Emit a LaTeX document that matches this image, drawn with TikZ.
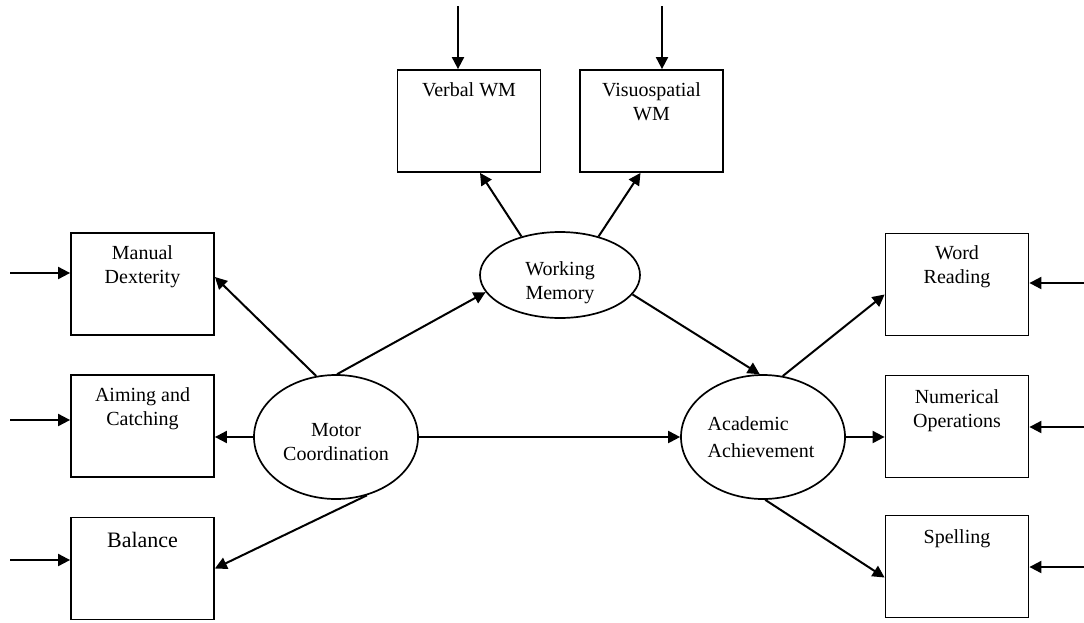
\documentclass[tikz,border=0pt]{standalone}
\usepackage{fontspec}
\setmainfont{Liberation Serif}
\usetikzlibrary{shapes.geometric,arrows.meta,calc}
\begin{document}
\begin{tikzpicture}[x=1pt,y=-1pt,
  box/.style={draw,line width=1.8pt,minimum width=143pt,minimum height=102pt,inner sep=0pt},
  oval/.style={draw,ellipse,line width=1.7pt,inner sep=0pt},
  lbl/.style={font=\fontsize{20}{24}\selectfont,align=center,inner sep=0pt,anchor=north},
  arr/.style={line width=2pt,-{Triangle[length=12pt,width=12pt]}}]
\useasboundingbox[fill=white] (0,0) rectangle (1084,622);
% boxes
\node[box] (md) at (142.5,284) {};
\node[box] (ac) at (142.5,426) {};
\node[box] (ba) at (142.5,568.5) {};
\node[box] (vw) at (469,121) {};
\node[box] (vs) at (651.5,121) {};
\node[box] (wr) at (957,284.5) {};
\node[box] (no) at (957,426.5) {};
\node[box] (sp) at (957,566.5) {};
% box labels
\node[lbl] (mdt) at ($(md.north)+(0,13)$) {Manual\\Dexterity};
\node[lbl] (act) at ($(ac.north)+(0,13)$) {Aiming and\\Catching};
\node[lbl,font=\fontsize{22}{26}\selectfont] (bat) at ($(ba.north)+(0,15)$) {Balance};
\node[lbl] (vwt) at ($(vw.north)+(0,13)$) {Verbal WM};
\node[lbl] (vst) at ($(vs.north)+(0,13)$) {Visuospatial\\WM};
\node[lbl] (wrt) at ($(wr.north)+(0,13)$) {Word\\Reading};
\node[lbl] (not) at ($(no.north)+(0,15)$) {Numerical\\Operations};
\node[lbl] (spt) at ($(sp.north)+(0,15)$) {Spelling};
% ellipses
\node[oval,minimum width=160pt,minimum height=86pt] (wm) at (560,275) {};
\node[oval,minimum width=164pt,minimum height=124pt] (mc) at (336,437) {};
\node[oval,minimum width=164pt,minimum height=124pt] (aa) at (763,437) {};
\node[lbl,anchor=center] (wmt) at ($(wm.center)+(0,8)$) {Working\\Memory};
\node[lbl,anchor=center] (mct) at ($(mc.center)+(0,5)$) {Motor\\Coordination};
\node[lbl,anchor=center,align=left,font=\fontsize{20}{27}\selectfont] (aat) at ($(aa.center)+(-2,0)$) {Academic\\Achievement};
% external arrows
\coordinate (mdin) at (10,273);
\coordinate (acin) at (10,420);
\coordinate (bain) at (10,560);
\coordinate (vwin) at (458,6);
\coordinate (vsin) at (662,6);
\coordinate (wrin) at (1084,283);
\coordinate (noin) at (1084,427);
\coordinate (spin) at (1084,567);
\draw[arr] (mdin) -- (mdin -| md.west);
\draw[arr] (acin) -- (acin -| ac.west);
\draw[arr] (bain) -- (bain -| ba.west);
\draw[arr] (vwin) -- (vwin |- vw.north);
\draw[arr] (vsin) -- (vsin |- vs.north);
\draw[arr] (wrin) -- (wrin -| wr.east);
\draw[arr] (noin) -- (noin -| no.east);
\draw[arr] (spin) -- (spin -| sp.east);
% internal arrows
\draw[arr] (mc.108) -- ($(md.east)+(0,-7)$);
\draw[arr] (mc.89) -- (wm.193);
\draw[arr] (mc.west) -- (mc.west -| ac.east);
\draw[arr] (mc.-62) -- (ba.east);
\draw[arr] (mc.east) -- (aa.west);
\draw[arr] (wm.135) -- ($(vw.south)+(11,0)$);
\draw[arr] (wm.45) -- ($(vs.south)+(-11,0)$);
\draw[arr] (wm.-15) -- (aa.93);
\draw[arr] (aa.72) -- ($(wr.west)+(0,10)$);
\draw[arr] (aa.east) -- (aa.east -| no.west);
\draw[arr] (aa.-88) -- ($(sp.west)+(0,11)$);
\end{tikzpicture}
\end{document}
